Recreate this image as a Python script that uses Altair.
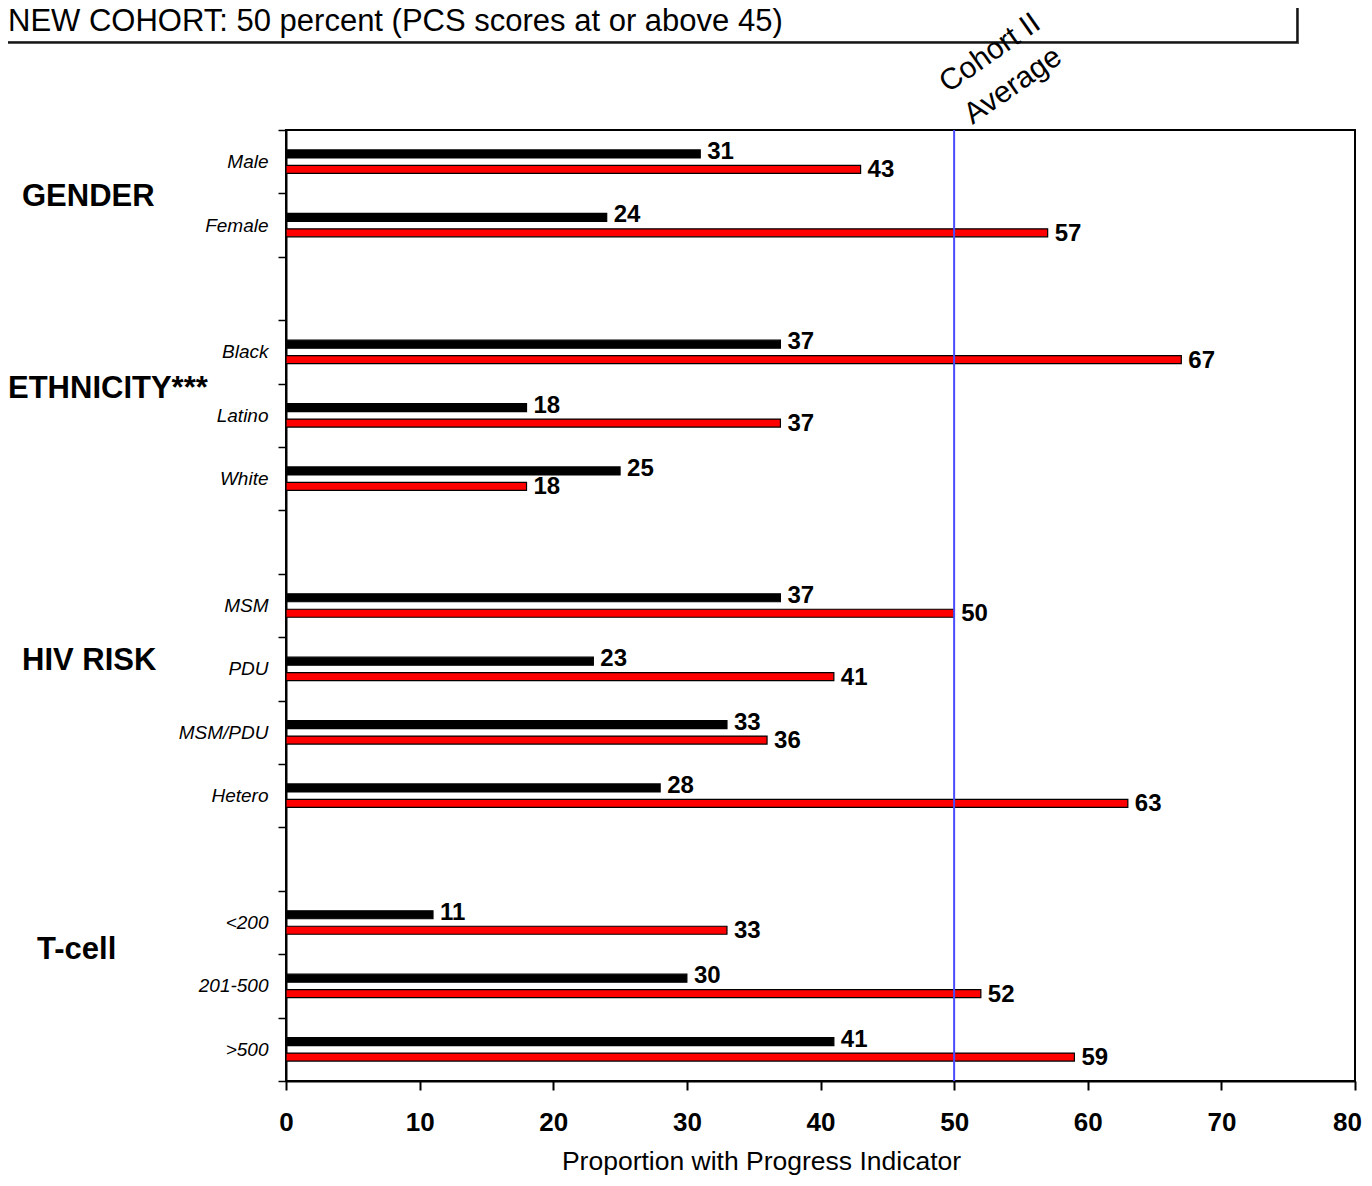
import altair as alt
import pandas as pd

# ---- data ----
rows = ["Male", "Female", "gap1", "Black", "Latino", "White", "gap2",
        "MSM", "PDU", "MSM/PDU", "Hetero", "gap3", "<200", "201-500", ">500"]
categories = ["Male", "Female", "Black", "Latino", "White", "MSM", "PDU",
              "MSM/PDU", "Hetero", "<200", "201-500", ">500"]
series_names = ["Cohort II", "New Cohort"]
black_values = [31, 24, 37, 18, 25, 37, 23, 33, 28, 11, 30, 41]
red_values = [43, 57, 67, 37, 18, 50, 41, 36, 63, 33, 52, 59]
x_ticks = [0, 10, 20, 30, 40, 50, 60, 70, 80]
average_value = 50
group_labels = ["GENDER", "ETHNICITY***", "HIV RISK", "T-cell"]
title_text = "NEW COHORT: 50 percent (PCS scores at or above 45)"
average_text = ["Cohort II", "Average"]
x_title = "Proportion with Progress Indicator"

df = pd.DataFrame(
    [{"row": c, "series": series_names[0], "value": v} for c, v in zip(categories, black_values)]
    + [{"row": c, "series": series_names[1], "value": v} for c, v in zip(categories, red_values)]
)
one = pd.DataFrame({"k": [0]})

SANS = "'Liberation Sans', Arial, sans-serif"

W, H = 1069, 951

x_enc = alt.X(
    "value:Q",
    scale=alt.Scale(domain=[0, 80], nice=False, zero=True),
    axis=alt.Axis(
        values=x_ticks, grid=False, tickSize=9, tickWidth=2, tickColor="black",
        domainColor="black", domainWidth=2,
        labelFont=SANS, labelFontWeight="bold", labelFontSize=26, labelColor="black",
        labelPadding=19, labelFlush=False,
        labelOffset=alt.condition("datum.value == 80", alt.value(-8), alt.value(0)),
        title=x_title, titleFont=SANS, titleFontWeight="normal", titleFontSize=26.5,
        titleColor="black", titlePadding=13, titleX=475,
    ),
)
y_enc = alt.Y(
    "row:N",
    scale=alt.Scale(domain=rows, paddingInner=0, paddingOuter=0),
    axis=alt.Axis(
        title=None, tickBand="extent", tickSize=8, tickWidth=1.5, tickColor="black",
        domainColor="black", domainWidth=2,
        labelFont=SANS, labelFontStyle="italic", labelFontSize=19, labelColor="black",
        labelPadding=10,
        labelExpr="indexof(datum.label, 'gap') == 0 ? '' : datum.label",
    ),
)
yoff_enc = alt.YOffset(
    "series:N",
    scale=alt.Scale(domain=["_pad_a"] + series_names + ["_pad_b"],
                    paddingInner=0, paddingOuter=0.045),
)
color_enc = alt.Color(
    "series:N",
    scale=alt.Scale(domain=series_names, range=["#000000", "#ff0000"]),
    legend=None,
)

base = alt.Chart(df)

bars = base.mark_bar(height=8, stroke="black", strokeWidth=1.2).encode(
    x=x_enc, y=y_enc, yOffset=yoff_enc, color=color_enc
)

labels_black = base.transform_filter(
    alt.datum.series == series_names[0]
).mark_text(
    align="left", baseline="middle", dx=7, dy=-2, font=SANS, fontWeight="bold",
    fontSize=24, color="black"
).encode(x="value:Q", y=alt.Y("row:N"), yOffset=alt.YOffset("series:N"), text="value:Q")

labels_red = base.transform_filter(
    alt.datum.series == series_names[1]
).mark_text(
    align="left", baseline="middle", dx=7, dy=1, font=SANS, fontWeight="bold",
    fontSize=24, color="black"
).encode(x="value:Q", y=alt.Y("row:N"), yOffset=alt.YOffset("series:N"), text="value:Q")

avg_rule = alt.Chart(one).mark_rule(color="#4a4aff", strokeWidth=2).encode(
    x=alt.datum(average_value)
)

avg_text = alt.Chart(one).mark_text(
    text=average_text, angle=325, align="center", baseline="middle",
    font=SANS, fontSize=30, lineHeight=40, color="black"
).encode(x=alt.value(704), y=alt.value(-77))

group_pos = [(-264, 67), (-278, 259), (-264, 531), (-249, 820)]
group_layers = [
    alt.Chart(one).mark_text(
        text=g, align="left", baseline="middle", font=SANS, fontWeight="bold",
        fontSize=31, color="black"
    ).encode(x=alt.value(px), y=alt.value(py))
    for g, (px, py) in zip(group_labels, group_pos)
]

box_shadow = alt.Chart(one).mark_rect(fill="#555555").encode(
    x=alt.value(-300), x2=alt.value(1013), y=alt.value(-200), y2=alt.value(-86)
)
box = alt.Chart(one).mark_rect(fill="white", stroke="black", strokeWidth=1.5).encode(
    x=alt.value(-300), x2=alt.value(1011), y=alt.value(-200), y2=alt.value(-88)
)
box_text = alt.Chart(one).mark_text(
    text=title_text, align="left", baseline="middle", font=SANS, fontSize=31,
    color="black"
).encode(x=alt.value(-278), y=alt.value(-108))

chart = alt.layer(
    bars, avg_rule, labels_black, labels_red, *group_layers,
    box_shadow, box, box_text, avg_text
).properties(
    width=W, height=H,
    background="white",
    autosize=alt.AutoSizeParams(type="none"),
    padding={"left": 278, "top": 122, "right": 8, "bottom": 97},
).configure_view(
    stroke="black", strokeWidth=2
)

chart.save("out.html", embed_options={"renderer": "svg", "actions": False})
